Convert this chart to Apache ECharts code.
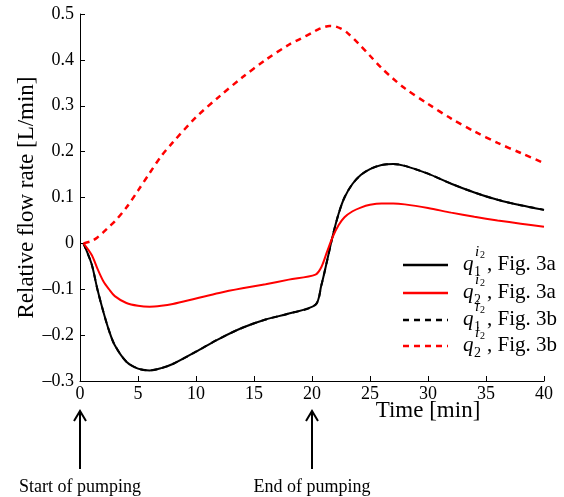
<!DOCTYPE html>
<html>
<head>
<meta charset="utf-8">
<script src="https://cdn.jsdelivr.net/npm/echarts@6/dist/echarts.min.js"></script>
<style>
html,body{margin:0;padding:0;background:#fff;}
#chart{width:564px;height:497px;}
</style>
</head>
<body>
<div id="chart"></div>
<script>
// ---- data ----
const time = [0.3,1,1.5,2,2.5,3,4,5,6,7,8,10,12,14,16,18,20.3,20.8,21.3,21.8,22.3,22.8,23.5,24.2,25,26,27,28,30,32,34,36,38,40];
const q1Fig3a = [0,-0.045,-0.10,-0.148,-0.19,-0.222,-0.258,-0.273,-0.277,-0.272,-0.263,-0.236,-0.208,-0.184,-0.166,-0.153,-0.134,-0.092,-0.038,0.018,0.065,0.100,0.130,0.149,0.162,0.171,0.173,0.169,0.152,0.130,0.111,0.095,0.083,0.073];
const q2Fig3a = [0,-0.025,-0.055,-0.082,-0.100,-0.115,-0.130,-0.136,-0.138,-0.136,-0.132,-0.120,-0.108,-0.098,-0.089,-0.079,-0.068,-0.052,-0.018,0.015,0.040,0.057,0.070,0.078,0.084,0.087,0.087,0.085,0.077,0.067,0.058,0.050,0.043,0.036];
// Fig. 3b q1 coincides with Fig. 3a q1 (hidden underneath in the reference)
const q1Fig3b = [0,-0.045,-0.10,-0.148,-0.19,-0.222,-0.258,-0.273,-0.277,-0.272,-0.263,-0.236,-0.208,-0.184,-0.166,-0.153,-0.134,-0.092,-0.038,0.018,0.065,0.100,0.130,0.149,0.162,0.171,0.173,0.169,0.152,0.130,0.111,0.095,0.083,0.073];
const timeDash = [0.3,1,1.5,2,2.5,3,4,5,6,7,8,10,12,14,16,18,19,20,20.5,21,21.5,22,22.5,23,24,25,26,27,28,30,32,34,36,38,40];
const q2Fig3b = [0,0.005,0.013,0.024,0.036,0.048,0.078,0.115,0.153,0.19,0.22,0.275,0.320,0.362,0.400,0.433,0.446,0.459,0.466,0.471,0.474,0.473,0.468,0.460,0.436,0.409,0.382,0.359,0.338,0.304,0.272,0.244,0.219,0.197,0.175];
const seriesNames = ['q1 Fig. 3a','q2 Fig. 3a','q1 Fig. 3b','q2 Fig. 3b'];
const legendLabels = [['1','Fig. 3a'],['2','Fig. 3a'],['1','Fig. 3b'],['2','Fig. 3b']];
const events = [{t:0,label:'Start of pumping'},{t:20,label:'End of pumping'}];
const xTicks = {min:0,max:40,interval:5};
const yTicks = {min:-0.3,max:0.5,interval:0.1};

const FONT = "'Liberation Serif','Times New Roman',serif";
const pairs = (ts,vals) => ts.map((t,i)=>[t,vals[i]]);

const chart = echarts.init(document.getElementById('chart'), null, {renderer:'canvas'});
const option = {
  animation:false,
  backgroundColor:'#fff',
  grid:{left:80,right:20,top:14,bottom:116,containLabel:false},
  xAxis:{
    type:'value', min:xTicks.min, max:xTicks.max, interval:xTicks.interval,
    name:'Time [min]', nameLocation:'middle', nameGap:18, nameMoveOverlap:false,
    nameTextStyle:{fontFamily:FONT,fontSize:23,color:'#000',padding:[0,0,0,232]},
    axisLine:{show:true,onZero:false,lineStyle:{color:'#000',width:1}},
    axisTick:{show:true,inside:true,length:5,lineStyle:{color:'#000'}},
    axisLabel:{fontFamily:FONT,fontSize:18,color:'#000',margin:4},
    splitLine:{show:false}
  },
  yAxis:{
    type:'value', min:yTicks.min, max:yTicks.max, interval:yTicks.interval,
    name:'Relative flow rate [L/min]', nameLocation:'middle', nameGap:42, nameRotate:90, nameMoveOverlap:false,
    nameTextStyle:{fontFamily:FONT,fontSize:23,color:'#000'},
    axisLine:{show:true,onZero:false,lineStyle:{color:'#000',width:1}},
    axisTick:{show:true,inside:true,length:5,lineStyle:{color:'#000'}},
    axisLabel:{fontFamily:FONT,fontSize:18,color:'#000',margin:6,
      formatter:v=>{const r=Math.round(v*10)/10; if(r===0) return '0'; return r<0?'\u2013'+Math.abs(r).toFixed(1):r.toFixed(1);}},
    splitLine:{show:false}
  },
  series:[
    {name:seriesNames[2],type:'line',data:pairs(time,q1Fig3b),showSymbol:false,smooth:0.3,z:1,
      lineStyle:{color:'#000',width:2,type:[6,5]}},
    {name:seriesNames[3],type:'line',data:pairs(timeDash,q2Fig3b),showSymbol:false,smooth:0.3,z:2,
      lineStyle:{color:'#ff0000',width:2.5,type:[6,5]}},
    {name:seriesNames[0],type:'line',data:pairs(time,q1Fig3a),showSymbol:false,smooth:0.3,z:3,
      lineStyle:{color:'#000',width:2}},
    {name:seriesNames[1],type:'line',data:pairs(time,q2Fig3a),showSymbol:false,smooth:0.3,z:4,
      lineStyle:{color:'#ff0000',width:2}}
  ]
};
chart.setOption(option);

// ---- legend (drawn as graphic for stacked sub/superscripts) ----
const legColors = ['#000','#ff0000','#000','#ff0000'];
const legDash = [null,null,[6,5],[6,5]];
const legRows = [265,293,320,346];
const g = [];
legRows.forEach((y,i)=>{
  g.push({type:'line',shape:{x1:403,y1:y,x2:448,y2:y},style:{stroke:legColors[i],lineWidth:2.5,lineDash:legDash[i]}});
  g.push({type:'text',x:463,y:y-1,style:{text:'q',font:'italic 21px '+FONT,fill:'#000',textVerticalAlign:'middle'}});
  g.push({type:'text',x:474,y:y+7,style:{text:legendLabels[i][0],font:'14px '+FONT,fill:'#000',textVerticalAlign:'middle'}});
  g.push({type:'text',x:475,y:y-13,style:{text:'i',font:'italic 15px '+FONT,fill:'#000',textVerticalAlign:'middle'}});
  g.push({type:'text',x:480,y:y-10,style:{text:'2',font:'10px '+FONT,fill:'#000',textVerticalAlign:'middle'}});
  g.push({type:'text',x:487,y:y-1,style:{text:', '+legendLabels[i][1],font:'21px '+FONT,fill:'#000',textVerticalAlign:'middle'}});
});

// ---- event arrows below the axis ----
events.forEach(ev=>{
  const p = chart.convertToPixel({gridIndex:0},[ev.t,yTicks.min]);
  const x = Math.round(p[0]);
  const top = 411, bot = 469;
  g.push({type:'line',shape:{x1:x,y1:bot,x2:x,y2:top+1},style:{stroke:'#000',lineWidth:2}});
  g.push({type:'polyline',shape:{points:[[x-6,top+10],[x,top],[x+6,top+10]]},style:{stroke:'#000',lineWidth:2,fill:null}});
  g.push({type:'text',x:x,y:487,style:{text:ev.label,font:'18px '+FONT,fill:'#000',textAlign:'center',textVerticalAlign:'middle'}});
});
chart.setOption({graphic:g});
</script>
</body>
</html>
